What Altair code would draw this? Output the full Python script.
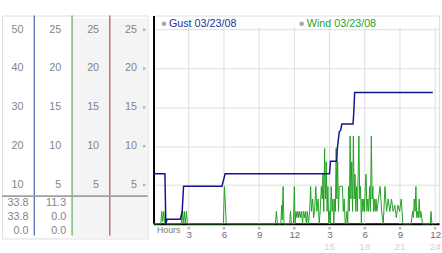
import altair as alt
import pandas as pd

# ---------------- data ----------------
gust_hours = [0, 0.97, 1.05, 1.16, 2.28, 2.44, 2.56, 5.83, 6.1, 15.0, 15.08,
              15.61, 15.66, 15.75, 15.83, 15.95, 16.05, 17.0, 17.06, 17.14, 23.8]
gust_kmh = [12.9, 12.9, 0.0, 1.2, 1.2, 3.1, 9.7, 9.7, 12.9, 12.9, 16.1,
            16.1, 19.3, 21.7, 23.7, 24.1, 25.7, 25.7, 28.5, 33.8, 33.8]

wind_points = [
    (0, 0), (0.62, 0), (0.7, 1.6), (0.78, 0.3), (0.88, 1.6), (0.96, 0),
    (2.36, 0), (2.44, 1.6), (2.52, 0), (2.62, 1.6), (2.7, 0), (2.8, 1.6), (2.88, 0),
    (5.95, 0), (6.04, 4.8), (6.1, 3.2), (6.2, 0),
    (10.38, 0), (10.47, 1.6), (10.56, 0), (10.85, 0), (10.92, 2.4), (10.97, 0.5),
    (11.04, 4.8), (11.12, 0), (11.6, 0), (11.67, 1.6), (11.75, 0), (11.92, 0),
    (12.0, 4.8), (12.06, 0),
    (12.14, 1.6), (12.22, 0.8), (12.3, 1.6), (12.38, 0.8), (12.46, 1.6), (12.54, 0.8),
    (12.62, 1.6), (12.7, 0), (12.78, 1.6), (12.86, 0.8), (12.94, 1.6), (13.02, 0),
    (13.1, 1.6), (13.2, 0), (13.3, 1.6),
    (13.39, 4.8), (13.46, 1.6), (13.56, 3.2), (13.64, 0.8), (13.72, 1.6), (13.83, 4.8),
    (13.92, 1.6), (14.03, 3.2), (14.12, 0), (14.2, 1.6), (14.3, 4.8), (14.38, 3.2),
    (14.44, 6.4), (14.51, 1.6), (14.58, 9.7), (14.65, 3.2), (14.72, 8.0), (14.79, 1.6),
    (14.86, 4.8), (14.93, 0),
    (15.0, 1.6), (15.07, 0), (15.14, 4.8), (15.22, 1.6), (15.29, 3.2), (15.36, 0),
    (15.44, 3.2), (15.5, 1.6), (15.56, 9.7), (15.62, 3.2), (15.69, 8.0), (15.76, 1.6),
    (15.83, 4.8), (15.9, 4.8), (16.0, 4.8), (16.1, 4.8), (16.17, 1.6), (16.25, 3.2),
    (16.33, 0), (16.39, 0), (16.47, 1.6), (16.55, 0), (16.62, 4.8), (16.69, 1.6),
    (16.75, 11.3), (16.82, 3.2), (16.89, 8.0), (16.96, 1.6), (17.03, 11.3), (17.1, 3.2),
    (17.17, 6.4), (17.24, 1.6), (17.31, 4.8), (17.38, 1.6), (17.44, 6.4), (17.5, 11.3),
    (17.57, 3.2), (17.64, 4.8), (17.71, 0), (17.78, 3.2), (17.85, 1.6), (17.92, 3.2),
    (17.98, 1.6), (18.05, 4.8), (18.11, 6.4), (18.18, 1.6), (18.26, 3.2), (18.33, 1.6),
    (18.42, 4.8), (18.49, 1.6), (18.56, 11.3), (18.63, 3.2), (18.69, 4.8), (18.76, 1.6),
    (18.83, 3.2), (18.89, 1.6), (18.96, 3.2), (19.03, 1.6), (19.1, 2.4), (19.17, 3.2),
    (19.31, 4.8), (19.44, 1.6), (19.58, 0), (19.72, 4.8), (19.86, 1.6), (20.0, 3.2),
    (20.14, 1.6), (20.28, 3.2), (20.42, 1.6), (20.56, 2.4), (20.69, 0.8), (20.83, 2.4),
    (20.97, 1.6), (21.11, 3.2), (21.25, 0),
    (21.95, 0), (22.08, 1.6), (22.15, 0.8), (22.22, 3.2), (22.29, 1.6), (22.36, 4.8),
    (22.43, 0.8), (22.5, 1.6), (22.57, 0.8), (22.64, 3.2), (22.71, 0.8), (22.78, 1.6),
    (22.85, 0.8), (22.92, 0),
    (23.58, 0), (23.65, 1.6), (23.72, 0), (23.9, 0),
]

x_tick_hours = [3, 6, 9, 12, 15, 18, 21, 24]
pm_hours = [15, 18, 21, 24]
y_ticks = [5, 10, 15, 20, 25]
column_factors = [2, 1, 1, 1]
column_line_colors = ["#2b3f9e", "#32a032", "#a82a2a"]
stats_gust = ["33.8", "33.8", "0.0"]
stats_wind = ["11.3", "0.0", "0.0"]
legend_labels = ["Gust 03/23/08", "Wind 03/23/08"]
legend_colors = ["#22339a", "#2ea02e"]

# ---------------- layout / style ----------------
PX_PER_UNIT = 7.94
MAIN_W, MAIN_H = 292, 213
LEFT_W, LEFT_H = 149, 228
Y_TOP = MAIN_H / PX_PER_UNIT
Y_BOTTOM_LEFT = Y_TOP - LEFT_H / PX_PER_UNIT
GRID_TOP = 25.35
FONT = "Liberation Sans"
GRID = "#dddddd"
LABEL = "#858585"
GUST_COLOR = "#14148c"
WIND_COLOR = "#22a022"
MARK_COLOR = "#b0b0b0"

wind_df = pd.DataFrame(wind_points, columns=["hour", "wind"])
gust_df = pd.DataFrame({"hour": gust_hours, "gust": gust_kmh})

# ---------------- main plot ----------------
xs = alt.Scale(domain=[0, MAIN_W / 12], nice=False, zero=False)
ys = alt.Scale(domain=[0, Y_TOP], nice=False, zero=False)
ys_g = alt.Scale(domain=[0, 2 * Y_TOP], nice=False, zero=False)

x_axis = alt.Axis(values=x_tick_hours,
                  labelExpr="datum.value > 12 ? '' + (datum.value - 12) : '' + datum.value",
                  ticks=False, tickSize=0, grid=False, domainColor="black", domainWidth=2,
                  labelColor="#707070", labelFont=FONT, labelFontSize=10, labelPadding=6,
                  labelFlush=False, title=None)
y_axis = alt.Axis(values=y_ticks, grid=True, gridColor=GRID, gridWidth=1, labels=False,
                  ticks=False, tickSize=0, domainColor="black", domainWidth=2, title=None)

X = alt.X("hour:Q", scale=xs, axis=x_axis)

grid_df = pd.DataFrame({"hour": x_tick_hours})
grid_df["y0"] = 0.0
grid_df["y1"] = GRID_TOP
vgrid = alt.Chart(grid_df).mark_rule(color=GRID, strokeWidth=1).encode(
    x=X, y=alt.Y("y0:Q", scale=ys, axis=y_axis), y2="y1:Q")

wind_line = alt.Chart(wind_df).mark_line(color=WIND_COLOR, strokeWidth=1).encode(
    x=X, y=alt.Y("wind:Q", scale=ys, axis=y_axis))

mk_df = pd.DataFrame({"hour": x_tick_hours})
mk_df["y"] = 0.0
markers = alt.Chart(mk_df).mark_point(shape="cross", angle=45, size=9, filled=True,
                                      color=MARK_COLOR, opacity=1).encode(
    x=X, y=alt.Y("y:Q", scale=ys, axis=y_axis), yOffset=alt.value(4.5))

pm_df = pd.DataFrame({"hour": pm_hours, "label": [str(h) for h in pm_hours]})
pm_df["y"] = 0.0
pm_text = alt.Chart(pm_df).mark_text(dy=23.5, baseline="middle", font=FONT, fontSize=10,
                                     color="#d2d2d2").encode(
    x=X, y=alt.Y("y:Q", scale=ys, axis=y_axis), text="label:N")

hours_text = alt.Chart(pd.DataFrame({"t": ["Hours"]})).mark_text(
    align="left", baseline="middle", font=FONT, fontSize=9, color="#7a7a7a").encode(
    x=alt.value(3.5), y=alt.value(219), text="t:N")

legend_layers = []
legend_pos = [(10.8, 15.7), (151.5, 156.7)]
for lab, col, (cx, tx) in zip(legend_labels, legend_colors, legend_pos):
    d = pd.DataFrame({"t": [lab]})
    legend_layers.append(alt.Chart(d).mark_point(filled=True, shape="circle", size=22,
                                                 color="#a8a8a8", opacity=1).encode(
        x=alt.value(cx), y=alt.value(8.5)))
    legend_layers.append(alt.Chart(d).mark_text(align="left", baseline="middle", font=FONT,
                                                fontSize=11, color=col).encode(
        x=alt.value(tx), y=alt.value(8.5), text="t:N"))

gust_line = alt.Chart(gust_df).mark_line(color=GUST_COLOR, strokeWidth=1.5).encode(
    x=X, y=alt.Y("gust:Q", scale=ys_g, axis=None))

inner = alt.layer(vgrid, wind_line, markers, pm_text, hours_text, *legend_layers)
main = alt.layer(inner, gust_line).resolve_scale(y="independent").properties(
    width=MAIN_W, height=MAIN_H)

# ---------------- left value columns ----------------
lxs = alt.Scale(domain=[0.146, 4], nice=False, zero=False)
lys = alt.Scale(domain=[Y_BOTTOM_LEFT, Y_TOP], nice=False, zero=False)

bg_df = pd.DataFrame({"start": [2, 3], "end": [3, 4]})
bg = alt.Chart(bg_df).mark_rect(color="#f4f4f4").encode(
    x=alt.X("start:Q", scale=lxs, axis=None), x2="end:Q",
    y=alt.value(3), y2=alt.value(LEFT_H))

ln_df = pd.DataFrame({"b": [1, 2, 3], "c": column_line_colors})
col_lines = alt.Chart(ln_df).mark_rule(strokeWidth=1).encode(
    x=alt.X("b:Q", scale=lxs, axis=None), y=alt.value(0), y2=alt.value(225),
    color=alt.Color("c:N", scale=None))

sep = alt.Chart(pd.DataFrame({"t": [0]})).mark_rule(color="#a0a0a0", strokeWidth=2).encode(
    x=alt.value(0), x2=alt.value(LEFT_W), y=alt.value(184.7))

rows = []
for ci, f in enumerate(column_factors):
    for t in y_ticks:
        rows.append({"b": ci + 1, "v": t, "label": f"{t * f:g}"})
tick_df = pd.DataFrame(rows)
tick_labels = alt.Chart(tick_df).mark_text(align="right", baseline="middle", dx=-11,
                                           font=FONT, fontSize=11, color=LABEL).encode(
    x=alt.X("b:Q", scale=lxs, axis=None), y=alt.Y("v:Q", scale=lys, axis=None),
    text="label:N")

ymk_df = pd.DataFrame({"v": y_ticks})
ymk_df["b"] = 4
ymarks = alt.Chart(ymk_df).mark_point(shape="cross", angle=45, size=9, filled=True,
                                      color=MARK_COLOR, opacity=1).encode(
    x=alt.X("b:Q", scale=lxs, axis=None), y=alt.Y("v:Q", scale=lys, axis=None),
    xOffset=alt.value(-3.5))

srows = []
for b, vals in ((1, stats_gust), (2, stats_wind)):
    for r, s in enumerate(vals):
        srows.append({"b": b, "ypx": 192 + 14 * r, "label": s})
stats_df = pd.DataFrame(srows)
stats = alt.Chart(stats_df).mark_text(align="right", baseline="middle", dx=-6,
                                      font=FONT, fontSize=11, color=LABEL).encode(
    x=alt.X("b:Q", scale=lxs, axis=None), y=alt.Y("ypx:Q", scale=None),
    text="label:N")

left = alt.layer(bg, col_lines, sep, tick_labels, ymarks, stats).properties(
    width=LEFT_W, height=LEFT_H)

chart = alt.hconcat(left, main, spacing=0).properties(
    padding={"left": 0, "top": 12, "right": 0, "bottom": 0}
).configure_view(stroke=None).configure(background="white")

chart.save("out.html", embed_options={"renderer": "svg", "actions": False})
